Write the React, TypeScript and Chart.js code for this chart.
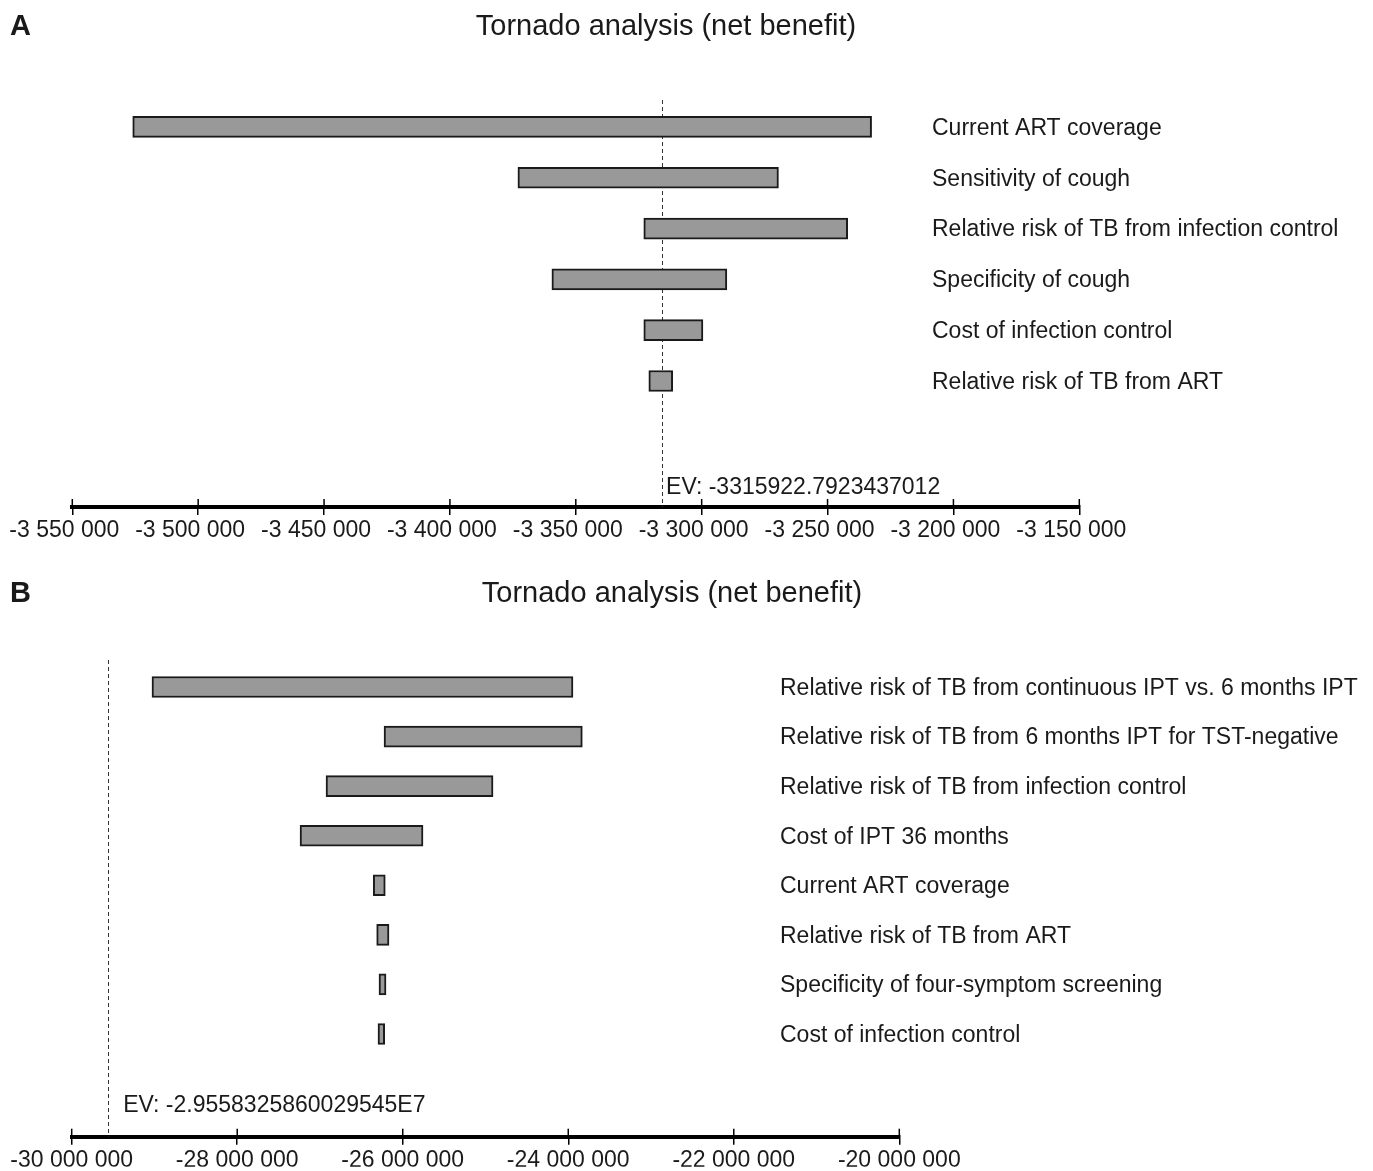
import React, { useEffect, useRef } from "react";
import { Chart, registerables } from "chart.js";

Chart.register(...registerables);

const FONT = '"Liberation Sans", Arial, Helvetica, sans-serif';

// ---------- Panel A data ----------
const titleA = "Tornado analysis (net benefit)";
const categoriesA = [
  "Current ART coverage",
  "Sensitivity of cough",
  "Relative risk of TB from infection control",
  "Specificity of cough",
  "Cost of infection control",
  "Relative risk of TB from ART",
];
const lowA = [-3526000, -3373000, -3323000, -3359500, -3323000, -3321000];
const highA = [-3232500, -3269500, -3242000, -3290000, -3299500, -3311500];
const evA = -3315922.7923437012;
const evLabelA = "EV: -3315922.7923437012";
const axisMinA = -3550000;
const axisMaxA = -3150000;
const axisStepA = 50000;

// ---------- Panel B data ----------
const titleB = "Tornado analysis (net benefit)";
const categoriesB = [
  "Relative risk of TB from continuous IPT vs. 6 months IPT",
  "Relative risk of TB from 6 months IPT for TST-negative",
  "Relative risk of TB from infection control",
  "Cost of IPT 36 months",
  "Current ART coverage",
  "Relative risk of TB from ART",
  "Specificity of four-symptom screening",
  "Cost of infection control",
];
const lowB = [-29030000, -26226000, -26927000, -27241000, -26356000, -26315000, -26287000, -26299000];
const highB = [-23943000, -23830000, -24909000, -25755000, -26211000, -26166000, -26202000, -26218000];
const evB = -29558325.860029545;
const evLabelB = "EV: -2.9558325860029545E7";
const axisMinB = -30000000;
const axisMaxB = -20000000;
const axisStepB = 2000000;

const fmt = (v: number) =>
  (v < 0 ? "-" : "") +
  Math.abs(Math.round(v))
    .toString()
    .replace(/\B(?=(\d{3})+(?!\d))/g, " ");

type PanelProps = {
  categories: string[];
  low: number[];
  high: number[];
  ev: number;
  evLabel: string;
  axisMin: number;
  axisMax: number;
  axisStep: number;
  width: number;
  height: number;
  top: number;
  pad: { left: number; right: number; top: number; bottom: number };
  axisHeight: number;
  tickLabelOffset: number;
  yMin: number;
  yMax: number;
  labelX: number;
  labelDy: number;
  evDx: number;
  evDy: number;
};

function TornadoPanel(p: PanelProps) {
  const ref = useRef<HTMLCanvasElement>(null);

  useEffect(() => {
    const canvas = ref.current;
    if (!canvas) return;

    const extras = {
      id: "tornadoExtras",
      beforeDatasetsDraw(chart: any) {
        const { ctx, chartArea } = chart;
        const x = chart.scales.x;
        const px = Math.round(x.getPixelForValue(p.ev)) + 0.5;
        ctx.save();
        ctx.strokeStyle = "#333";
        ctx.lineWidth = 1;
        ctx.setLineDash([4, 3]);
        ctx.beginPath();
        ctx.moveTo(px, chartArea.top);
        ctx.lineTo(px, chartArea.bottom);
        ctx.stroke();
        ctx.restore();
      },
      afterDraw(chart: any) {
        const { ctx, chartArea } = chart;
        const x = chart.scales.x;
        const y = chart.scales.y;
        ctx.save();
        // upper part of the tick marks (crossing the axis line)
        ctx.strokeStyle = "#000";
        ctx.lineWidth = 1.5;
        x.ticks.forEach((_t: any, i: number) => {
          const tp = x.getPixelForTick(i);
          ctx.beginPath();
          ctx.moveTo(tp, chartArea.bottom - 8);
          ctx.lineTo(tp, chartArea.bottom);
          ctx.stroke();
        });
        // category labels
        ctx.fillStyle = "#1a1a1a";
        ctx.font = `23px ${FONT}`;
        ctx.textAlign = "left";
        ctx.textBaseline = "middle";
        p.categories.forEach((label, i) => {
          ctx.fillText(label, p.labelX, y.getPixelForValue(i) + p.labelDy);
        });
        // EV label
        ctx.font = `23px ${FONT}`;
        ctx.fillText(p.evLabel, x.getPixelForValue(p.ev) + p.evDx, chartArea.bottom - p.evDy);
        ctx.restore();
      },
    };

    const chart = new Chart(canvas, {
      type: "bar",
      data: {
        datasets: [
          {
            data: p.categories.map((_, i) => ({ x: [p.low[i], p.high[i]], y: i })) as any,
            backgroundColor: "#999999",
            borderColor: "#1a1a1a",
            borderWidth: 2,
            borderSkipped: false,
            barThickness: 21,
          },
        ],
      },
      options: {
        indexAxis: "y",
        responsive: false,
        animation: false,
        devicePixelRatio: 1,
        layout: { padding: p.pad },
        plugins: {
          legend: { display: false },
          tooltip: { enabled: false },
          title: { display: false },
        },
        scales: {
          x: {
            type: "linear",
            min: p.axisMin,
            max: p.axisMax,
            beginAtZero: false,
            afterFit: (s: any) => {
              s.height = p.axisHeight;
            },
            border: { display: true, color: "#000", width: 4 },
            grid: {
              display: true,
              drawOnChartArea: false,
              drawTicks: true,
              tickLength: 8,
              tickColor: "#000",
              tickWidth: 1.5,
              color: "#000",
              lineWidth: 1.5,
            },
            ticks: {
              stepSize: p.axisStep,
              autoSkip: false,
              maxRotation: 0,
              minRotation: 0,
              padding: 2,
              labelOffset: p.tickLabelOffset,
              color: "#1a1a1a",
              font: { family: FONT, size: 23 },
              callback: (v: any) => fmt(Number(v)),
            },
          },
          y: {
            type: "linear",
            display: false,
            reverse: true,
            min: p.yMin,
            max: p.yMax,
            offset: false,
            bounds: "data",
          },
        },
      } as any,
      plugins: [extras],
    });

    return () => chart.destroy();
  }, []);

  return (
    <canvas
      ref={ref}
      width={p.width}
      height={p.height}
      style={{ position: "absolute", left: 0, top: p.top, width: p.width, height: p.height }}
    />
  );
}

function TextAt(props: { text: string; cx?: number; left?: number; cy: number; size: number; bold?: boolean }) {
  const { text, cx, left, cy, size, bold } = props;
  const style: React.CSSProperties = {
    position: "absolute",
    top: cy - size / 2,
    fontFamily: FONT,
    fontSize: size,
    lineHeight: `${size}px`,
    fontWeight: bold ? "bold" : "normal",
    color: "#1a1a1a",
    whiteSpace: "nowrap",
  };
  if (cx !== undefined) {
    style.left = cx;
    style.transform = "translateX(-50%)";
  } else {
    style.left = left;
  }
  return <div style={style}>{text}</div>;
}

export default function App() {
  const W = 1373;
  return (
    <div style={{ position: "absolute", left: 0, top: 0, width: W, height: 1171, background: "#fff", overflow: "hidden" }}>
      <TornadoPanel
        categories={categoriesA}
        low={lowA}
        high={highA}
        ev={evA}
        evLabel={evLabelA}
        axisMin={axisMinA}
        axisMax={axisMaxA}
        axisStep={axisStepA}
        width={W}
        height={565}
        top={0}
        pad={{ left: 72.3, right: W - 1079.3, top: 100, bottom: 8 }}
        axisHeight={50}
        tickLabelOffset={-8}
        yMin={-0.53}
        yMax={7.48}
        labelX={932}
        labelDy={1.5}
        evDx={4.5}
        evDy={19.5}
      />
      <TornadoPanel
        categories={categoriesB}
        low={lowB}
        high={highB}
        ev={evB}
        evLabel={evLabelB}
        axisMin={axisMinB}
        axisMax={axisMaxB}
        axisStep={axisStepB}
        width={W}
        height={606}
        top={565}
        pad={{ left: 71.7, right: W - 899.3, top: 95, bottom: 4.3 }}
        axisHeight={30}
        tickLabelOffset={0}
        yMin={-0.545}
        yMax={9.072}
        labelX={780}
        labelDy={1.5}
        evDx={15}
        evDy={31.5}
      />
      <TextAt text="A" left={10} cy={25} size={29} bold />
      <TextAt text={titleA} cx={666} cy={25} size={29} />
      <TextAt text="B" left={10} cy={592} size={29} bold />
      <TextAt text={titleB} cx={672} cy={592} size={29} />
    </div>
  );
}
